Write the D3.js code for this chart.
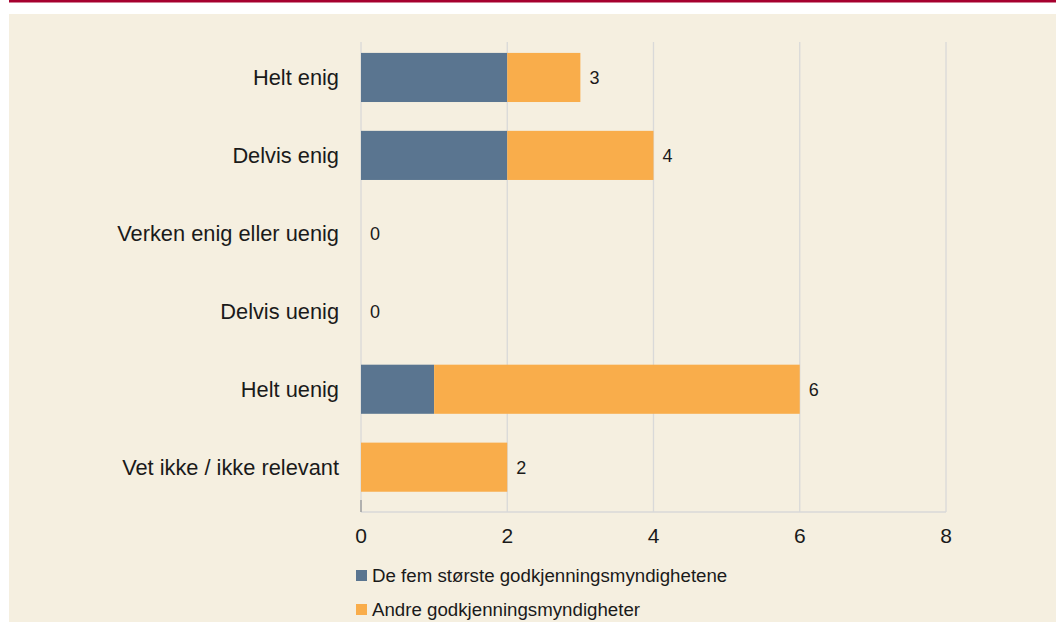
<!DOCTYPE html>
<html>
<head>
<meta charset="utf-8">
<script src="https://cdn.jsdelivr.net/npm/d3@7"></script>
<style>
  html, body { margin:0; padding:0; background:#fff; }
  svg { display:block; font-family:'Liberation Sans', Arial, sans-serif; }
</style>
</head>
<body>
<div id="chart"></div>
<script>
// data
const CATEGORIES = ["Helt enig","Delvis enig","Verken enig eller uenig","Delvis uenig","Helt uenig","Vet ikke / ikke relevant"];
const SERIES = ["De fem største godkjenningsmyndighetene","Andre godkjenningsmyndigheter"];
const FEM = [2, 2, 0, 0, 1, 0];
const ANDRE = [1, 2, 0, 0, 5, 2];
const X_TICKS = [0, 2, 4, 6, 8];

const COLORS = ["#5a7590", "#f9ad4b"];
const W = 1056, H = 622;
const MG = {t:42, r:110, b:110, l:361};

const svg = d3.select("#chart").append("svg").attr("width",W).attr("height",H);

// frame: red rule on top, beige panel
svg.append("rect").attr("x",9).attr("y",0).attr("width",W-9).attr("height",2.5).attr("fill","#a6002f");
svg.append("rect").attr("x",9).attr("y",14).attr("width",W-9).attr("height",H-14).attr("fill","#f5efe0");

const iW = W-MG.l-MG.r, iH = H-MG.t-MG.b;
const g = svg.append("g").attr("transform",`translate(${MG.l},${MG.t})`);

const x = d3.scaleLinear().domain([0,8]).range([0, 585]);
const y = d3.scaleBand().domain(CATEGORIES).range([0, iH]).paddingInner(0.37).paddingOuter(0.2).align(0.35);

// grid
g.selectAll(".grid").data(X_TICKS).join("line")
  .attr("x1",d=>x(d)).attr("x2",d=>x(d)).attr("y1",0).attr("y2",iH)
  .attr("stroke","#d9d9d9").attr("stroke-width",1.3);
g.append("line").attr("x1",0).attr("x2",x(8)).attr("y1",iH).attr("y2",iH)
  .attr("stroke","#d9d9d9").attr("stroke-width",1.3);
g.append("line").attr("x1",0).attr("x2",0).attr("y1",iH-12).attr("y2",iH)
  .attr("stroke","#a0a0a0").attr("stroke-width",1.5);

// stacked bars
const rows = CATEGORIES.map((c,i)=>({cat:c, fem:FEM[i], andre:ANDRE[i]}));
const stack = d3.stack().keys(["fem","andre"])(rows);
g.selectAll(".layer").data(stack).join("g")
  .attr("fill",(d,i)=>COLORS[i])
  .selectAll("rect").data(d=>d).join("rect")
  .attr("x",d=>x(d[0])).attr("width",d=>x(d[1])-x(d[0]))
  .attr("y",d=>y(d.data.cat)).attr("height",y.bandwidth());

// totals
g.selectAll(".tot").data(rows).join("text")
  .attr("x",d=>x(d.fem+d.andre)+9)
  .attr("y",d=>y(d.cat)+y.bandwidth()/2)
  .attr("dy","0.36em").attr("font-size",18).attr("fill","#1a1a1a")
  .text(d=>d.fem+d.andre);

// category labels
g.selectAll(".cat").data(CATEGORIES).join("text")
  .attr("x",-22).attr("y",d=>y(d)+y.bandwidth()/2)
  .attr("dy","0.36em").attr("text-anchor","end")
  .attr("font-size",21.8).attr("fill","#1a1a1a")
  .text(d=>d);

// x tick labels
g.selectAll(".xt").data(X_TICKS).join("text")
  .attr("x",d=>x(d)).attr("y",iH+23).attr("dy","0.36em")
  .attr("text-anchor","middle").attr("font-size",21).attr("fill","#1a1a1a")
  .text(d=>d);

// legend
const lg = svg.append("g").attr("transform","translate(356,570)");
SERIES.forEach((s,i)=>{
  lg.append("rect").attr("x",0).attr("y",i*34).attr("width",11).attr("height",11).attr("fill",COLORS[i]);
  lg.append("text").attr("x",16).attr("y",i*34+5.5).attr("dy","0.36em")
    .attr("font-size",18.7).attr("fill","#1a1a1a").text(s);
});
</script>
</body>
</html>
